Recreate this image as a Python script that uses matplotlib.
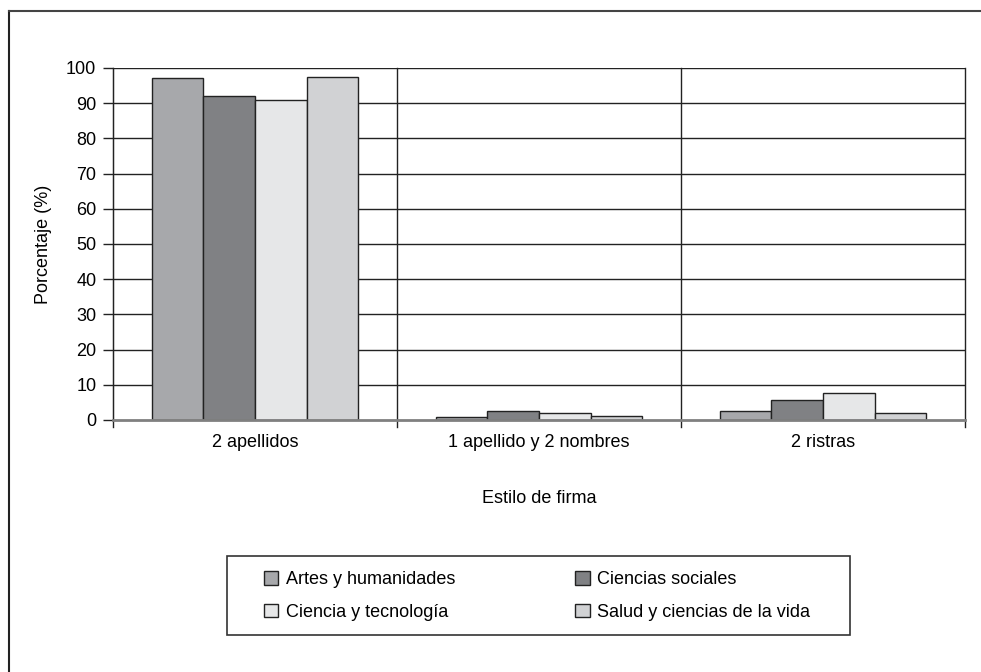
import matplotlib.pyplot as plt
import numpy as np
from matplotlib.lines import Line2D
from matplotlib.patches import Rectangle

plt.rcParams['font.family'] = ['Liberation Sans Narrow', 'Liberation Sans', 'DejaVu Sans']

categories = ['2 apellidos', '1 apellido y 2 nombres', '2 ristras']
series = ['Artes y humanidades', 'Ciencias sociales',
          'Ciencia y tecnología', 'Salud y ciencias de la vida']
values = {
    'Artes y humanidades': [97.1, 0.8, 2.6],
    'Ciencias sociales': [92.0, 2.6, 5.8],
    'Ciencia y tecnología': [90.8, 1.9, 7.6],
    'Salud y ciencias de la vida': [97.4, 1.1, 2.0],
}
colors = ['#a7a8ab', '#808184', '#e6e7e8', '#d1d2d4']
yticks = list(range(0, 101, 10))

W, H = 981, 672
fig = plt.figure(figsize=(W / 100, H / 100), dpi=100)
ax = fig.add_axes([113 / W, 1 - 420 / H, 852 / W, 352 / H])

x = np.arange(len(categories))
bw = 0.1815
for i, (name, c) in enumerate(zip(series, colors)):
    ax.bar(x + (i - 1.5) * bw, values[name], bw, color=c,
           edgecolor='#222222', linewidth=1.0, label=name, zorder=3)

ax.set_xlim(-0.5, len(categories) - 0.5)
ax.set_ylim(0, 100)
ax.set_yticks(yticks)
ax.set_yticklabels([str(t) for t in yticks], fontsize=13)
ax.set_xticks(x)
ax.set_xticklabels(categories, fontsize=13)
ax.tick_params(axis='x', length=0, pad=10)
ax.tick_params(axis='y', length=7, width=1, color='#222222', pad=5)

# horizontal grid and group separators
for t in yticks[1:]:
    ax.axhline(t, color='#222222', linewidth=1.0, zorder=1)
for b in np.arange(-0.5, len(categories), 1.0):
    ax.plot([b, b], [-0.02, 1], transform=ax.get_xaxis_transform(),
            color='#222222', linewidth=1.0, clip_on=False, zorder=1)

for s in ['top', 'right']:
    ax.spines[s].set_visible(False)
ax.spines['left'].set_color('#222222')
ax.spines['bottom'].set_color('#808080')
ax.spines['bottom'].set_linewidth(2)
ax.spines['bottom'].set_zorder(4)

ax.set_ylabel('Porcentaje (%)', fontsize=13, labelpad=10)
ax.set_xlabel('Estilo de firma', fontsize=13, labelpad=28)

# legend: rows are (Artes, Ciencias sociales), (Ciencia y tecnología, Salud)
handles, labels = ax.get_legend_handles_labels()
order = [0, 2, 1, 3]
leg = fig.legend([handles[k] for k in order], [labels[k] for k in order],
                 ncol=2, loc='upper left',
                 bbox_to_anchor=(264 / W, 1 - 571 / H),
                 fontsize=13, frameon=False, handlelength=0.8,
                 handleheight=0.8, handletextpad=0.4, borderpad=0,
                 labelspacing=0.85, columnspacing=6.65, borderaxespad=0)
fig.add_artist(Rectangle((227 / W, 1 - 635 / H), 623 / W, 79 / H,
                         transform=fig.transFigure, fill=False,
                         edgecolor='#333333', linewidth=1.2))

# page frame: left and top only
fig.add_artist(Line2D([9 / W, 9 / W], [0, 1 - 11 / H],
                      transform=fig.transFigure, color='#222222', linewidth=1.5))
fig.add_artist(Line2D([9 / W, 1], [1 - 11 / H, 1 - 11 / H],
                      transform=fig.transFigure, color='#444444', linewidth=1.5))

fig.savefig('out.png', dpi=100)
